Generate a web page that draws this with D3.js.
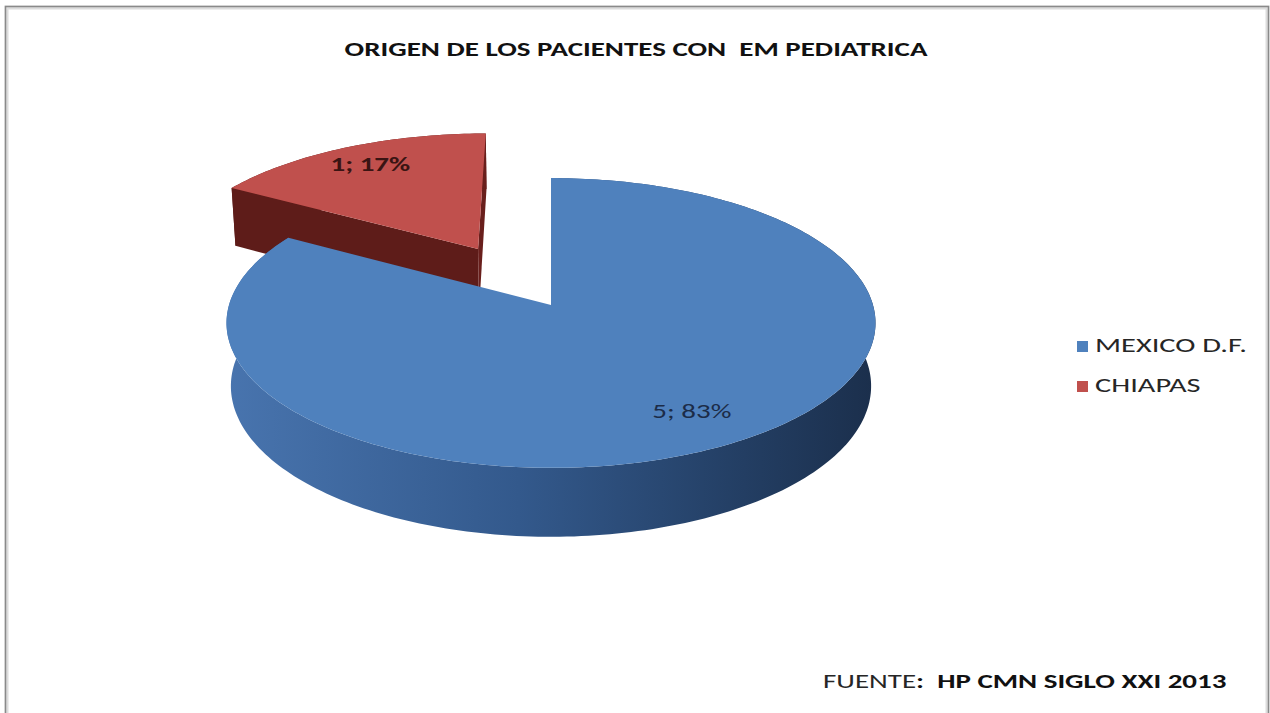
<!DOCTYPE html>
<html>
<head>
<meta charset="utf-8">
<script src="https://cdn.jsdelivr.net/npm/d3@7"></script>
<style>
  body { margin: 0; background: #fff; }
  text { font-family: Carlito, Lato, "Liberation Sans", sans-serif; }
</style>
</head>
<body>
<div id="chart"></div>
<script>
// data
var categories = ["MEXICO D.F.", "CHIAPAS"],
    values = [5, 1],
    title = "ORIGEN DE LOS PACIENTES CON  EM PEDIATRICA",
    sourceLabel = "FUENTE",
    sourceText = ":  HP CMN SIGLO XXI 2013";

var W = 1270, H = 713;

// the original picture is stretched sideways, text too
var stretch = 1.45;

// fake 3d camera for the pie
var cx = 551, cy = 305,
    elev = 26.3 * Math.PI / 180,
    dist = 7.23,
    depth = 0.22,
    explodeBy = 0.476,
    labelR = 0.8;

var r = d3.scaleLinear().domain([0, 1]).range([0, 322]);

var topColor = d3.scaleOrdinal().domain(categories).range(["#4f81bd", "#c0504d"]),
    wallColor = d3.scaleOrdinal().domain(categories).range(["#2c4f7e", "#5e1c19"]),
    labelColor = d3.scaleOrdinal().domain(categories).range(["#1c2c48", "#3a1413"]),
    labelWeight = d3.scaleOrdinal().domain(categories).range(["normal", "bold"]);

function project(X, Y, Z) {
    var yp = Y * Math.cos(elev) + Z * Math.sin(elev),
        d = Z * Math.cos(elev) - Y * Math.sin(elev),
        f = dist / (dist + d);
    return [cx + r(X * f), cy - r(yp * f)];
}

var cam = [0, dist * Math.sin(elev), -dist * Math.cos(elev)];

function at(x, y) {
    return "translate(" + x + "," + y + ") scale(" + stretch + ",1)";
}

var svg = d3.select("#chart").append("svg")
    .attr("width", W)
    .attr("height", H);

svg.append("rect")
    .attr("width", W).attr("height", H)
    .attr("fill", "#fff");

// frame
svg.append("rect")
    .attr("x", 6.5).attr("y", 7.5)
    .attr("width", 1261).attr("height", 720)
    .attr("fill", "none")
    .attr("stroke", "#dcdcdc")
    .attr("stroke-width", 4);
svg.append("rect")
    .attr("x", 5.5).attr("y", 6.5)
    .attr("width", 1263).attr("height", 720)
    .attr("fill", "none")
    .attr("stroke", "#8a8a8a")
    .attr("stroke-width", 1.5);

// side gradient
var gl = project(-1, 0, 0), gr = project(1, 0, 0);
var grad = svg.append("defs").append("linearGradient")
    .attr("id", "sideBlue")
    .attr("gradientUnits", "userSpaceOnUse")
    .attr("x1", gl[0]).attr("x2", gr[0])
    .attr("y1", 0).attr("y2", 0);
[["0", "#4874ae"], ["0.45", "#33598c"], ["0.8", "#233e63"], ["1", "#1b2f4c"]].forEach(function (s) {
    grad.append("stop").attr("offset", s[0]).attr("stop-color", s[1]);
});

var pie = d3.pie().sort(null).value(function (d) { return d; });
var arcs = pie(values);
var total = d3.sum(values);

var line = d3.line();

function rim(a0, a1, ox, oz, Y) {
    var n = Math.max(2, Math.ceil(Math.abs(a1 - a0) / 0.02));
    return d3.range(n + 1).map(function (k) {
        var a = a0 + (a1 - a0) * k / n;
        return project(ox + Math.sin(a), Y, oz + Math.cos(a));
    });
}

function wallVisible(a, sign, ox, oz) {
    var na = a + sign * Math.PI / 2,
        nx = Math.sin(na), nz = Math.cos(na);
    return (cam[0] - ox) * nx + (cam[2] - oz) * nz > 1e-6;
}

var pieG = svg.append("g");

// back slice first (the exploded one), then the big one
var order = [1, 0];

order.forEach(function (i) {
    var s = arcs[i],
        cat = categories[i],
        mid = (s.startAngle + s.endAngle) / 2,
        off = i === 1 ? explodeBy : 0,
        ox = off * Math.sin(mid),
        oz = off * Math.cos(mid),
        g = pieG.append("g").attr("class", "slice");

    // outer side
    var upper = rim(s.startAngle, s.endAngle, ox, oz, 0),
        lower = rim(s.startAngle, s.endAngle, ox, oz, -depth).reverse();
    g.append("path")
        .attr("d", line(upper.concat(lower)) + "Z")
        .attr("fill", i === 0 ? "url(#sideBlue)" : wallColor(cat));

    // radial walls
    [[s.startAngle, -1], [s.endAngle, 1]].forEach(function (w) {
        if (!wallVisible(w[0], w[1], ox, oz)) return;
        var pts = [
            project(ox, 0, oz),
            project(ox + Math.sin(w[0]), 0, oz + Math.cos(w[0])),
            project(ox + Math.sin(w[0]), -depth, oz + Math.cos(w[0])),
            project(ox, -depth, oz)
        ];
        g.append("path")
            .attr("d", line(pts) + "Z")
            .attr("fill", w[1] < 0 ? wallColor(cat) : d3.color(wallColor(cat)).brighter(0.3));
    });

    // top face
    g.append("path")
        .attr("d", line([project(ox, 0, oz)].concat(upper)) + "Z")
        .attr("fill", topColor(cat));
});

// data labels
arcs.forEach(function (s, i) {
    var cat = categories[i],
        mid = (s.startAngle + s.endAngle) / 2,
        off = i === 1 ? explodeBy : 0,
        p = project((off + labelR) * Math.sin(mid), 0, (off + labelR) * Math.cos(mid)),
        pct = Math.round(s.value / total * 100);
    svg.append("text")
        .attr("transform", at(p[0], p[1]))
        .attr("text-anchor", "middle")
        .attr("dominant-baseline", "middle")
        .attr("font-size", 20)
        .attr("font-weight", labelWeight(cat))
        .attr("fill", labelColor(cat))
        .text(s.value + "; " + pct + "%");
});

// title
svg.append("text")
    .attr("transform", at(636, 56))
    .attr("text-anchor", "middle")
    .attr("font-size", 20)
    .attr("font-weight", "bold")
    .attr("fill", "#111")
    .style("white-space", "pre")
    .text(title);

// legend
var leg = svg.append("g").attr("transform", "translate(1077,341)");
var items = leg.selectAll("g")
    .data(categories)
    .enter().append("g")
    .attr("transform", function (d, i) { return "translate(0," + (i * 40) + ")"; });
items.append("rect")
    .attr("width", 11).attr("height", 11)
    .attr("fill", function (d) { return topColor(d); });
items.append("text")
    .attr("transform", at(18, 11))
    .attr("font-size", 21)
    .attr("fill", "#262626")
    .text(function (d) { return d; });

// source
var src = svg.append("text")
    .attr("transform", at(823, 688))
    .attr("font-size", 20)
    .attr("fill", "#262626")
    .style("white-space", "pre");
src.append("tspan").text(sourceLabel);
src.append("tspan").attr("font-weight", "bold").attr("fill", "#111").text(sourceText);
</script>
</body>
</html>
